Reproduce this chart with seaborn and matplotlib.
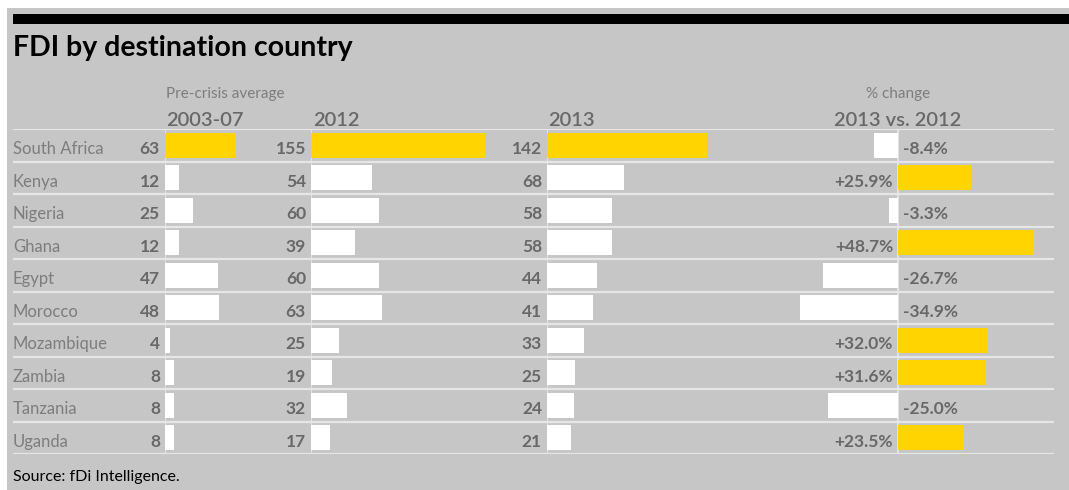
import numpy as np
import pandas as pd
import matplotlib.pyplot as plt
from matplotlib.patches import Rectangle
import seaborn as sns

# data
countries = ['South Africa', 'Kenya', 'Nigeria', 'Ghana', 'Egypt', 'Morocco',
             'Mozambique', 'Zambia', 'Tanzania', 'Uganda']
avg_0307 = [63, 12, 25, 12, 47, 48, 4, 8, 8, 8]
fdi_2012 = [155, 54, 60, 39, 60, 63, 25, 19, 32, 17]
fdi_2013 = [142, 68, 58, 58, 44, 41, 33, 25, 24, 21]
pct_change = [-8.4, 25.9, -3.3, 48.7, -26.7, -34.9, 32.0, 31.6, -25.0, 23.5]

sns.set_theme(style='white')
plt.rcParams['font.family'] = ['Lato', 'DejaVu Sans']

BG = '#c6c6c6'
YEL = '#ffd400'
RULE = '#e6e6e6'
TXT = '#686868'
LAB = '#7d7d7d'
DY = -4  # text sits a little below bar centre

W, H = 1069, 490
fig = plt.figure(figsize=(W / 100, H / 100), dpi=100)
fig.patch.set_facecolor('white')


def box(x0, y0, x1, y1):
    # pixel box (from top-left) -> figure fraction rect
    return [x0 / W, 1 - y1 / H, (x1 - x0) / W, (y1 - y0) / H]


def fx(x):
    return x / W


def fy(y):
    return 1 - y / H


# grey panel and black top rule
fig.add_artist(Rectangle((fx(7), 0), 1, fy(8), transform=fig.transFigure,
                         facecolor=BG, edgecolor='none', zorder=0))
fig.add_artist(Rectangle((fx(13), fy(24)), 1, 10 / H, transform=fig.transFigure,
                         facecolor='black', edgecolor='none', zorder=1))

ROW_TOP, ROW_BOT = 129, 454
n = len(countries)

# background axes: row rules + country names
bg = fig.add_axes(box(13, ROW_TOP, 1054, ROW_BOT))
bg.set_xlim(0, 1)
bg.set_ylim(n - 0.5, -0.5)
bg.axis('off')
for k in range(n + 1):
    bg.axhline(k - 0.5, color=RULE, lw=1.6, zorder=1)
for i, c in enumerate(countries):
    bg.annotate(c, xy=(0, i), xytext=(0, DY), textcoords='offset pixels',
                ha='left', va='center', fontsize=12, color=LAB)

PX = 1.125  # pixels per FDI unit


def value_col(x0, x1, vals):
    ax = fig.add_axes(box(x0, ROW_TOP, x1, ROW_BOT))
    ax.patch.set_alpha(0)
    df = pd.DataFrame({'country': countries, 'v': vals})
    top = max(vals)
    pal = {c: (YEL if v == top else 'white') for c, v in zip(countries, vals)}
    sns.barplot(data=df, x='v', y='country', hue='country', palette=pal,
                orient='h', width=0.77, saturation=1, legend=False,
                linewidth=0, ax=ax)
    ax.set_xlim(0, (x1 - x0) / PX)
    ax.set_ylim(n - 0.5, -0.5)
    ax.axis('off')
    ax.axvline(0, color=RULE, lw=1.3, zorder=0)
    for i, v in enumerate(vals):
        ax.annotate(str(v), xy=(0, i), xytext=(-5, DY), textcoords='offset pixels',
                    ha='right', va='center', fontsize=12.5, fontweight='bold',
                    color=TXT)
    return ax


value_col(165, 300, avg_0307)
value_col(311, 540, fdi_2012)
value_col(547, 780, fdi_2013)

# % change column
ZERO = 898
PXP = 2.8
axc = fig.add_axes(box(790, ROW_TOP, 1054, ROW_BOT))
axc.patch.set_alpha(0)
dfc = pd.DataFrame({'country': countries, 'v': pct_change})
palc = {c: (YEL if v > 0 else 'white') for c, v in zip(countries, pct_change)}
sns.barplot(data=dfc, x='v', y='country', hue='country', palette=palc,
            orient='h', width=0.77, saturation=1, legend=False,
            linewidth=0, ax=axc)
axc.set_xlim(-(ZERO - 790) / PXP, (1054 - ZERO) / PXP)
axc.set_ylim(n - 0.5, -0.5)
axc.axis('off')
axc.axvline(0, color=RULE, lw=1.3, zorder=0)
for i, v in enumerate(pct_change):
    pos = v > 0
    axc.annotate(f'{v:+.1f}%', xy=(0, i), xytext=(-5 if pos else 5, DY),
                 textcoords='offset pixels', ha='right' if pos else 'left',
                 va='center', fontsize=12.5, fontweight='bold', color=TXT)

# titles and headers
fig.text(fx(13), fy(56), 'FDI by destination country', ha='left', va='baseline',
         fontsize=20.5, fontweight='bold', color='black')
fig.text(fx(166), fy(94), 'Pre-crisis average', ha='left', va='center',
         fontsize=11, color=LAB)
for x, s in [(166, '2003-07'), (313, '2012'), (548, '2013')]:
    fig.text(fx(x), fy(120), s, ha='left', va='center', fontsize=14.5,
             fontweight='semibold', color=TXT)
fig.text(fx(ZERO), fy(94), '% change', ha='center', va='center',
         fontsize=11, color=LAB)
fig.text(fx(ZERO), fy(120), '2013 vs. 2012', ha='center', va='center',
         fontsize=14.5, fontweight='semibold', color=TXT)
fig.text(fx(13), fy(481), 'Source: fDi Intelligence.', ha='left', va='baseline',
         fontsize=11.5, color='black')

fig.savefig('out.png', dpi=100, facecolor=fig.get_facecolor())
